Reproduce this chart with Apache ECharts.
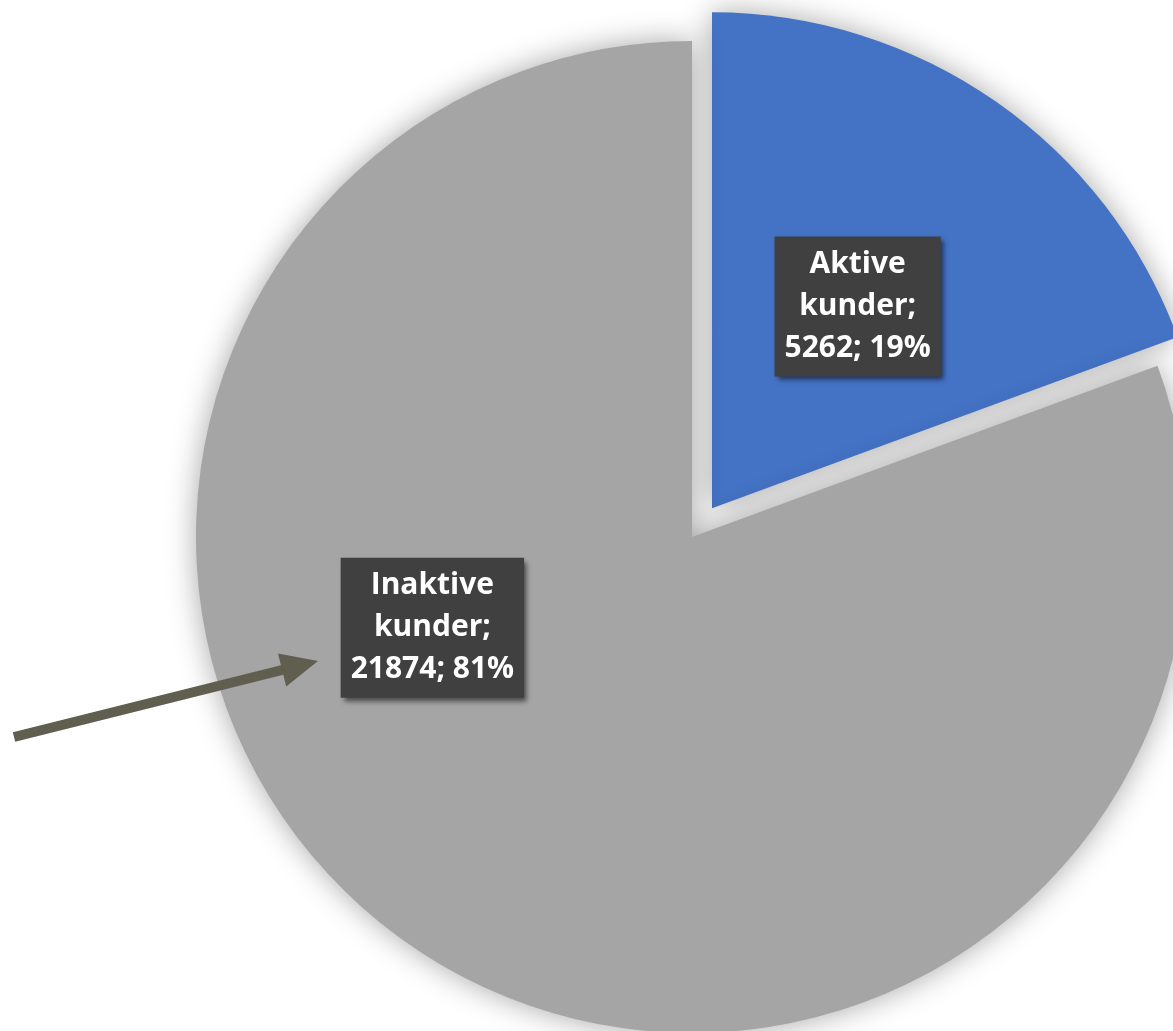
<!DOCTYPE html>
<html>
<head>
<meta charset="utf-8">
<style>
  html, body { margin: 0; padding: 0; background: #ffffff; }
  #chart { width: 1173px; height: 1031px; }
</style>
<script src="https://cdn.jsdelivr.net/npm/echarts@6/dist/echarts.min.js"></script>
</head>
<body>
<div id="chart"></div>
<script>
const categories = ['Aktive kunder', 'Inaktive kunder'];
const values = [5262, 21874];
const colors = ['#4472C4', '#A5A5A5'];
const exploded = [true, false];

const chart = echarts.init(document.getElementById('chart'), null, { renderer: 'canvas' });

const data = categories.map((name, i) => ({
  name: name,
  value: values[i],
  selected: exploded[i],
  itemStyle: { color: colors[i] }
}));

// arrow geometry (annotation)
const tail = [14, 737];
const tip = [318, 661];
const ux = (tip[0] - tail[0]), uy = (tip[1] - tail[1]);
const len = Math.sqrt(ux * ux + uy * uy);
const dxu = ux / len, dyu = uy / len;
const headLen = 37, headHalf = 17;
const base = [tip[0] - headLen * dxu, tip[1] - headLen * dyu];
const perp = [-dyu, dxu];

chart.setOption({
  animation: false,
  backgroundColor: '#ffffff',
  series: [{
    type: 'pie',
    center: [692, 537],
    radius: [0, 496],
    startAngle: 90,
    clockwise: true,
    selectedMode: 'single',
    selectedOffset: 35,
    data: data,
    itemStyle: {
      shadowBlur: 30,
      shadowColor: 'rgba(0,0,0,0.35)',
      shadowOffsetX: 0,
      shadowOffsetY: 0
    },
    emphasis: { disabled: true },
    percentPrecision: 0,
    label: {
      show: true,
      position: 'inside',
      formatter: function (p) {
        return p.name.replace(' ', '\n') + ';\n' + p.value + '; ' + p.percent + '%';
      },
      color: '#ffffff',
      fontFamily: 'Open Sans',
      fontWeight: 'bold',
      fontSize: 30,
      lineHeight: 42,
      align: 'center',
      backgroundColor: '#404040',
      padding: [8, 10, 6, 10],
      shadowColor: 'rgba(0,0,0,0.55)',
      shadowBlur: 5,
      shadowOffsetX: 3,
      shadowOffsetY: 4
    },
    labelLine: { show: false },
    labelLayout: function (params) {
      if (params.dataIndex === 1) {
        return { dx: -116, dy: -115 };
      }
      return { dx: 2, dy: 4 };
    }
  }],
  graphic: [
    {
      type: 'line',
      z: 100,
      shape: { x1: tail[0], y1: tail[1], x2: base[0] + 2 * dxu, y2: base[1] + 2 * dyu },
      style: { stroke: '#5F5E4F', lineWidth: 10 }
    },
    {
      type: 'polygon',
      z: 100,
      shape: {
        points: [
          tip,
          [base[0] + headHalf * perp[0], base[1] + headHalf * perp[1]],
          [base[0] - headHalf * perp[0], base[1] - headHalf * perp[1]]
        ]
      },
      style: { fill: '#5F5E4F' }
    }
  ]
});
</script>
</body>
</html>
